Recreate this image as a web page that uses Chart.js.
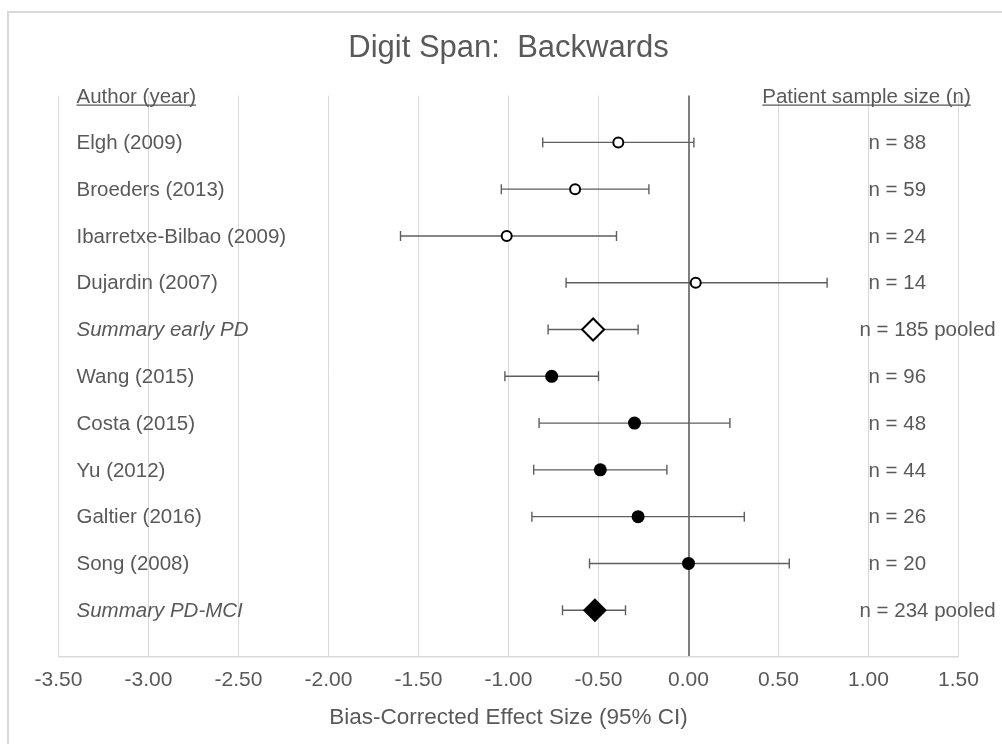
<!DOCTYPE html>
<html>
<head>
<meta charset="utf-8">
<title>Digit Span: Backwards</title>
<script src="https://cdn.jsdelivr.net/npm/chart.js@4/dist/chart.umd.min.js"></script>
<style>
  html, body { margin: 0; padding: 0; background: #ffffff; }
  #wrap { width: 1002px; height: 744px; position: relative; }
  canvas { display: block; }
</style>
</head>
<body>
<div id="wrap"><canvas id="forest" width="1002" height="744"></canvas></div>
<script>
// Forest plot: Digit Span Backwards, bias-corrected effect sizes with 95% CI
const studies = [
  'Elgh (2009)', 'Broeders (2013)', 'Ibarretxe-Bilbao (2009)', 'Dujardin (2007)',
  'Summary early PD',
  'Wang (2015)', 'Costa (2015)', 'Yu (2012)', 'Galtier (2016)', 'Song (2008)',
  'Summary PD-MCI'
];
const effectSizes = [-0.39, -0.63, -1.01, 0.04, -0.53, -0.76, -0.30, -0.49, -0.28, 0.00, -0.52];
const ciLower     = [-0.81, -1.04, -1.60, -0.68, -0.78, -1.02, -0.83, -0.86, -0.87, -0.55, -0.70];
const ciUpper     = [ 0.03, -0.22, -0.40,  0.77, -0.28, -0.50,  0.23, -0.12,  0.31,  0.56, -0.35];
const sampleSizes = [88, 59, 24, 14, 185, 96, 48, 44, 26, 20, 234];
const subgroup    = ['early', 'early', 'early', 'early', 'early', 'mci', 'mci', 'mci', 'mci', 'mci', 'mci'];
const isPooled    = [false, false, false, false, true, false, false, false, false, false, true];
const xTickValues = [-3.5, -3.0, -2.5, -2.0, -1.5, -1.0, -0.5, 0.0, 0.5, 1.0, 1.5];

const TEXT = '#595959';
const FONT = '"Liberation Sans", Arial, sans-serif';

// rows are numbered from the top: row 1 is the first study
function pointsFor(group, pooled) {
  const out = [];
  studies.forEach((s, i) => {
    if (subgroup[i] === group && isPooled[i] === pooled) out.push({ x: effectSizes[i], y: i + 1 });
  });
  return out;
}

const forestDecor = {
  id: 'forestDecor',
  beforeDraw(chart) {
    const ctx = chart.ctx;
    ctx.save();
    ctx.fillStyle = '#ffffff';
    ctx.fillRect(0, 0, chart.width, chart.height);
    ctx.strokeStyle = '#d9d9d9';
    ctx.lineWidth = 2;
    ctx.strokeRect(8, 12, chart.width + 40, chart.height + 40);
    ctx.restore();
  },
  beforeDatasetsDraw(chart) {
    const ctx = chart.ctx, xs = chart.scales.x, ys = chart.scales.y;
    ctx.save();
    ctx.strokeStyle = '#5f5f5f';
    ctx.lineWidth = 1.4;
    const cap = 5;
    studies.forEach((s, i) => {
      const y = ys.getPixelForValue(i + 1);
      const x0 = xs.getPixelForValue(ciLower[i]);
      const x1 = xs.getPixelForValue(ciUpper[i]);
      ctx.beginPath();
      ctx.moveTo(x0, y); ctx.lineTo(x1, y);
      ctx.moveTo(x0, y - cap); ctx.lineTo(x0, y + cap);
      ctx.moveTo(x1, y - cap); ctx.lineTo(x1, y + cap);
      ctx.stroke();
    });
    ctx.restore();
  },
  afterDraw(chart) {
    const ctx = chart.ctx, xs = chart.scales.x, ys = chart.scales.y;
    ctx.save();
    ctx.fillStyle = TEXT;
    ctx.textBaseline = 'middle';
    ctx.textAlign = 'left';

    // column headers
    const headY = chart.chartArea.top + 2;
    ctx.font = '20.5px ' + FONT;
    const headers = [
      { text: 'Author (year)', x: xs.getPixelForValue(-3.4) },
      { text: 'Patient sample size (n)', x: xs.getPixelForValue(0.41) }
    ];
    headers.forEach(h => {
      ctx.fillText(h.text, h.x, headY);
      const w = ctx.measureText(h.text).width;
      ctx.strokeStyle = TEXT;
      ctx.lineWidth = 1.2;
      ctx.beginPath();
      ctx.moveTo(h.x, headY + 7.5);
      ctx.lineTo(h.x + w, headY + 7.5);
      ctx.stroke();
    });

    // study names on the left, sample sizes on the right
    studies.forEach((s, i) => {
      const y = ys.getPixelForValue(i + 1) + 1;
      ctx.font = (isPooled[i] ? 'italic ' : '') + '20.5px ' + FONT;
      ctx.fillText(s, xs.getPixelForValue(-3.4), y);
      ctx.font = '20.5px ' + FONT;
      const nText = 'n = ' + sampleSizes[i] + (isPooled[i] ? ' pooled' : '');
      ctx.fillText(nText, xs.getPixelForValue(isPooled[i] ? 0.95 : 1.0), y);
    });
    ctx.restore();
  }
};

new Chart(document.getElementById('forest'), {
  type: 'scatter',
  data: {
    datasets: [
      {
        label: 'early PD studies',
        data: pointsFor('early', false),
        pointStyle: 'circle', pointRadius: 5, pointBorderWidth: 2,
        pointBackgroundColor: '#ffffff', pointBorderColor: '#000000'
      },
      {
        label: 'Summary early PD',
        data: pointsFor('early', true),
        pointStyle: 'rectRot', pointRadius: 11, pointBorderWidth: 2,
        pointBackgroundColor: '#ffffff', pointBorderColor: '#000000'
      },
      {
        label: 'PD-MCI studies',
        data: pointsFor('mci', false),
        pointStyle: 'circle', pointRadius: 6.5, pointBorderWidth: 0,
        pointBackgroundColor: '#000000', pointBorderColor: '#000000'
      },
      {
        label: 'Summary PD-MCI',
        data: pointsFor('mci', true),
        pointStyle: 'rectRot', pointRadius: 12, pointBorderWidth: 0,
        pointBackgroundColor: '#000000', pointBorderColor: '#000000'
      }
    ]
  },
  options: {
    responsive: false,
    devicePixelRatio: 1,
    animation: false,
    layout: { padding: { left: 58.5, right: 43.5, top: 0, bottom: 12.8 } },
    plugins: {
      legend: { display: false },
      tooltip: { enabled: false },
      title: {
        display: true,
        text: 'Digit Span:  Backwards',
        color: TEXT,
        font: { family: FONT, size: 31, weight: 'normal', lineHeight: 1.2 },
        padding: { top: 30, bottom: 28.4 }
      }
    },
    scales: {
      x: {
        type: 'linear',
        min: xTickValues[0],
        max: xTickValues[xTickValues.length - 1],
        afterBuildTicks(scale) { scale.ticks = xTickValues.map(v => ({ value: v })); },
        ticks: {
          color: TEXT,
          padding: 11,
          font: { family: FONT, size: 21, lineHeight: 1.2 },
          maxRotation: 0,
          callback: v => Number(v).toFixed(2)
        },
        grid: {
          drawTicks: false,
          color: c => (c.tick && c.tick.value === 0 ? '#7f7f7f' : '#d9d9d9'),
          lineWidth: c => (c.tick && c.tick.value === 0 ? 2 : 1)
        },
        border: { display: true, color: '#d9d9d9', width: 1.5 },
        title: {
          display: true,
          text: 'Bias-Corrected Effect Size (95% CI)',
          color: TEXT,
          font: { family: FONT, size: 22.5, lineHeight: 1.2 },
          padding: { top: 0, bottom: 0 }
        }
      },
      y: {
        type: 'linear',
        display: false,
        reverse: true,
        min: 0,
        max: studies.length + 1
      }
    }
  },
  plugins: [forestDecor]
});
</script>
</body>
</html>
